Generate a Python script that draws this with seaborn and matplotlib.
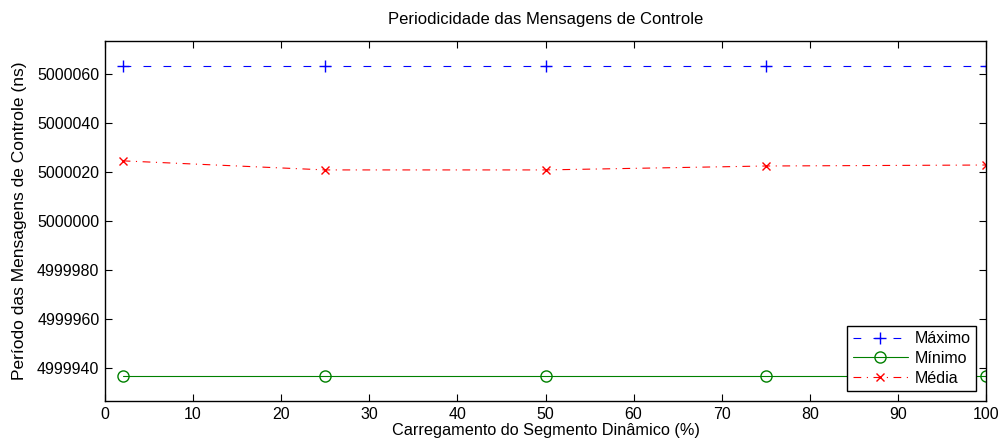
import matplotlib
matplotlib.use("Agg")
import matplotlib.pyplot as plt
import seaborn as sns
import pandas as pd

# Dynamic segment load (%)
carregamento = [2, 25, 50, 75, 100]
# Control message period (ns)
maximo = [5000063.3, 5000063.3, 5000063.3, 5000063.3, 5000063.3]
minimo = [4999936.7, 4999936.7, 4999936.7, 4999936.7, 4999936.7]
media = [5000024.5, 5000020.8, 5000020.8, 5000022.4, 5000022.8]

x_ticks = list(range(0, 101, 10))
y_ticks = [4999940, 4999960, 4999980, 5000000, 5000020, 5000040, 5000060]

sns.set_style("white")
plt.rcParams["font.family"] = ["Liberation Sans", "DejaVu Sans"]
plt.rcParams["font.size"] = 11.5
plt.rcParams["text.color"] = "black"
plt.rcParams["axes.labelcolor"] = "black"
plt.rcParams["xtick.color"] = "black"
plt.rcParams["ytick.color"] = "black"

fig = plt.figure(figsize=(10, 4.46), dpi=100)
ax = fig.add_axes([0.105, 0.101, 0.881, 0.807])

df = pd.DataFrame({"x": carregamento, "max": maximo, "min": minimo, "med": media})

azul = (0, 0, 1)
verde = (0, 0.5, 0)
vermelho = (1, 0, 0)

sns.lineplot(data=df, x="x", y="max", ax=ax, color=azul, linestyle=(0, (7, 11)),
             marker="+", markersize=8, markeredgecolor=azul, markeredgewidth=1,
             linewidth=0.8, label="Máximo")
sns.lineplot(data=df, x="x", y="min", ax=ax, color=verde, linestyle="-",
             marker="o", markersize=8, markerfacecolor="none", markeredgecolor=verde,
             markeredgewidth=1, linewidth=0.8, label="Mínimo")
sns.lineplot(data=df, x="x", y="med", ax=ax, color=vermelho, linestyle=(0, (7, 5, 1, 5)),
             marker="x", markersize=5.5, markeredgecolor=vermelho, markeredgewidth=1,
             linewidth=0.8, label="Média")

ax.set_xlim(0, 100)
ax.set_ylim(4999926.7, 5000073.3)
ax.set_xticks(x_ticks)
ax.set_yticks(y_ticks)
ax.set_xticklabels([str(v) for v in x_ticks])
ax.set_yticklabels([str(v) for v in y_ticks])
ax.tick_params(direction="in", length=5, width=0.8, top=True, right=True,
               bottom=True, left=True, labelsize=11.5, colors="black",
               labelcolor="black", pad=4)
for sp in ax.spines.values():
    sp.set_visible(True)
    sp.set_color("black")
    sp.set_linewidth(1.0)

ax.set_title("Periodicidade das Mensagens de Controle", fontsize=12, pad=12, color="black")
ax.set_xlabel("Carregamento do Segmento Dinâmico (%)", fontsize=11.7, labelpad=1, color="black")
ax.set_ylabel("Período das Mensagens de Controle (ns)", fontsize=12.5, labelpad=7, color="black")

leg = ax.legend(loc="lower right", fontsize=11.5, frameon=True, fancybox=False,
                edgecolor="black", framealpha=1, handlelength=3.5, borderaxespad=0.6,
                labelspacing=0.3, handletextpad=0.4, borderpad=0.35)
leg.get_frame().set_linewidth(1.0)
for t in leg.get_texts():
    t.set_color("black")

fig.savefig("out.png", dpi=100)
